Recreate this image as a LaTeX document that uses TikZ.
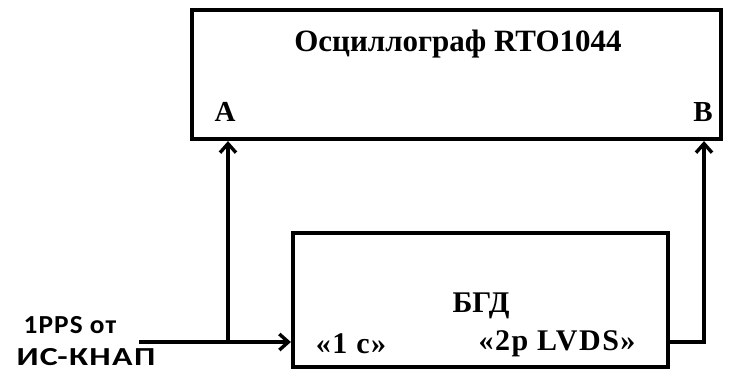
\documentclass[tikz,border=0pt]{standalone}
\usepackage{fontspec}
\setmainfont{Liberation Serif}
\newfontfamily\widecalib[LetterSpace=4]{Carlito}
\newfontfamily\widesrf[LetterSpace=5]{Liberation Serif}
\usetikzlibrary{arrows.meta}
\tikzset{
  blk/.style={draw, line width=4.2pt, inner sep=0pt},
  wire/.style={line width=3.4pt},
  arr/.style={wire, -{Straight Barb[length=9pt,width=16pt,line width=3.4pt]}},
  lbl/.style={font=\bfseries\fontsize{29}{31}\selectfont, inner sep=0pt},
  wlbl/.style={font=\widesrf\bfseries\fontsize{30}{32}\selectfont, inner sep=0pt},
  srct/.style={inner sep=0pt, font=\widecalib\bfseries\fontsize{26}{28}\selectfont, xscale=1.05, transform shape},
}
\begin{document}
\begin{tikzpicture}[x=1pt,y=-1pt]
\useasboundingbox (0,0) rectangle (731,372);
\node[blk, minimum width=529pt, minimum height=129pt] (osc) at (456.5,74.5) {};
\node[blk, minimum width=375pt, minimum height=134pt] (bgd) at (480.5,300) {};
\node[lbl, font=\bfseries\fontsize{31}{33}\selectfont] (title) at (458,44) {Осциллограф RTO1044};
\node[lbl] (A) at (225,112) {A};
\node[lbl] (B) at (703,112) {B};
\node[lbl, font=\bfseries\fontsize{30}{32}\selectfont] (bgdt) at (481,306) {БГД};
\node[wlbl] (s1) at (351,344) {«1 с»};
\node[wlbl] (s2) at (557,344) {«2р LVDS»};
\node[srct] (src1) at (70,325) {1PPS от};
\node[srct, xscale=1.24] (src2) at (86,357.5) {ИС-КНАП};
\coordinate (in) at (139,342);
\coordinate (j) at (228,342);
\coordinate (out) at (704,342);
\draw[arr] (in) -- (in -| bgd.west);
\draw[arr] (j) -- (j |- osc.south);
\draw[arr] (bgd.east |- out) -- (out) -- (out |- osc.south);
\end{tikzpicture}
\end{document}
